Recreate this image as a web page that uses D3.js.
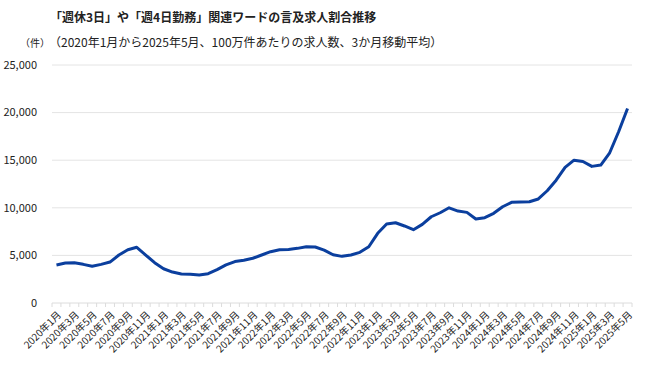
<!DOCTYPE html>
<html>
<head>
<meta charset="utf-8">
<script src="https://cdn.jsdelivr.net/npm/d3@7"></script>
<style>
  body { margin: 0; background: #fff; }
  text { font-family: "Noto Sans CJK JP", "Noto Sans", sans-serif; fill: #222; }
</style>
</head>
<body>
<div id="chart"></div>
<script>
var width = 650;
var height = 370;

var title = "「週休3日」や「週4日勤務」関連ワードの言及求人割合推移";
var subtitle = "（2020年1月から2025年5月、100万件あたりの求人数、3か月移動平均）";
var unitLabel = "（件）";

// monthly categories 2020-01 .. 2025-05
var months = d3.timeMonth.range(new Date(2020, 0, 1), new Date(2025, 5, 1))
  .map(d => d.getFullYear() + "年" + (d.getMonth() + 1) + "月");

var values = [
  4000, 4200, 4230, 4060, 3860, 4060, 4300, 5040, 5600, 5850,
  5040, 4230, 3600, 3250, 3040, 3010, 2950, 3080, 3500, 4000,
  4350, 4500, 4700, 5040, 5390, 5600, 5630, 5740, 5910, 5880,
  5560, 5070, 4900, 5040, 5320, 5910, 7320, 8300, 8430, 8090,
  7700, 8260, 9060, 9480, 10000, 9660, 9520, 8820, 8960, 9420,
  10110, 10570, 10600, 10640, 10930, 11790, 12900, 14250, 15000, 14870,
  14350, 14490, 15780, 17990, 20440
];

var yTicks = [0, 5000, 10000, 15000, 20000, 25000];

var svg = d3.select('#chart')
  .append('svg')
  .attr('width', width)
  .attr('height', height);

var x = d3.scaleBand().domain(months).range([52, 632]).padding(0);
var y = d3.scaleLinear().domain([0, 25000]).range([303, 65]);

// titles
svg.append('text').attr('x', 50).attr('y', 22)
  .attr('font-size', 12).attr('font-weight', 'bold').text(title);
svg.append('text').attr('x', 49).attr('y', 47)
  .attr('font-size', 12).text(subtitle);
svg.append('text').attr('x', 20).attr('y', 47)
  .attr('font-size', 10).text(unitLabel);

// gridlines + y labels
svg.selectAll('.grid')
  .data(yTicks.slice(1))
  .enter().append('line')
  .attr('x1', 52).attr('x2', 632)
  .attr('y1', d => y(d)).attr('y2', d => y(d))
  .attr('stroke', '#e4e4e4').attr('stroke-width', 1);

svg.selectAll('.ylab')
  .data(yTicks)
  .enter().append('text')
  .attr('x', 37).attr('y', d => y(d))
  .attr('dy', '0.35em')
  .attr('text-anchor', 'end')
  .attr('font-size', 11)
  .text(d => d3.format(',')(d));

// x axis baseline and month ticks at band boundaries
svg.append('line')
  .attr('x1', 52).attr('x2', 632)
  .attr('y1', y(0)).attr('y2', y(0))
  .attr('stroke', '#dcdcdc');

var bounds = months.map(m => x(m)).concat([x.range()[1]]);
svg.selectAll('.tick')
  .data(bounds)
  .enter().append('line')
  .attr('x1', d => d).attr('x2', d => d)
  .attr('y1', y(0)).attr('y2', y(0) + 4)
  .attr('stroke', '#dcdcdc');

// x labels every 2 months
svg.selectAll('.xlab')
  .data(months.filter((m, i) => i % 2 === 0))
  .enter().append('text')
  .attr('transform', d => 'translate(' + (x(d) + x.bandwidth() / 2 + 3) + ',' + 313 + ') rotate(-45)')
  .attr('text-anchor', 'end')
  .attr('dy', '0.35em')
  .attr('font-size', 10)
  .text(d => d);

// line
var line = d3.line()
  .x((d, i) => x(months[i]) + x.bandwidth() / 2)
  .y(d => y(d));

svg.append('path')
  .datum(values)
  .attr('fill', 'none')
  .attr('stroke', '#0b3f9e')
  .attr('stroke-width', 3)
  .attr('stroke-linejoin', 'round')
  .attr('d', line);
</script>
</body>
</html>
